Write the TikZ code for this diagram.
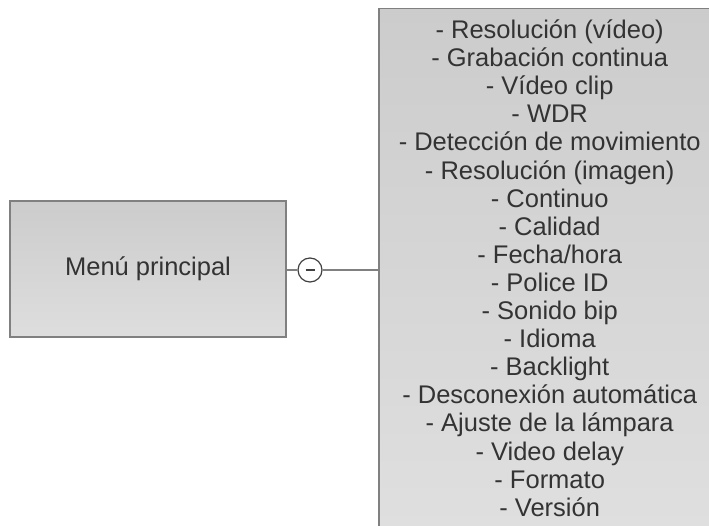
\documentclass[tikz,border=0pt]{standalone}
\usepackage{fontspec}
\setmainfont{Liberation Sans}
\usetikzlibrary{positioning}

\tikzset{
    menubox/.style={draw=black!50, line width=1.5pt, top color=black!20, bottom color=black!13,
        text=black!80, font=\fontsize{25.5}{28.1}\selectfont},
    conector/.style={draw=black!50, line width=1.5pt},
    pliegue/.style={circle, draw=black!75, line width=1.2pt, fill=white, minimum size=24pt, inner sep=0pt}
}

\begin{document}
\begin{tikzpicture}[x=1pt,y=-1pt]
\useasboundingbox (0,0) rectangle (709,526);

%draw main box
    \node (menu) [menubox, minimum width=276pt, minimum height=136pt] at (148,269) {Menú principal};

%draw list box
    \node (opciones) [menubox, anchor=north west, align=center, inner xsep=20pt, inner ysep=11pt, text depth=40pt, bottom color=black!12] at (378,8)
    {- Resolución (vídeo)\\ - Grabación continua\\ - Vídeo clip\\ - WDR\\ - Detección de movimiento\\
     - Resolución (imagen)\\ - Continuo\\ - Calidad\\ - Fecha/hora\\ - Police ID\\ - Sonido bip\\
     - Idioma\\ - Backlight\\ - Desconexión automática\\ - Ajuste de la lámpara\\ - Video delay\\
     - Formato\\ - Versión};

%draw collapse button and lines
    \node (boton) [pliegue] at (310,270) {};
    \draw[black!75, line width=1.2pt] ([xshift=-4.5pt]boton.center) -- ([xshift=4.5pt]boton.center);
    \draw[conector] (menu.east |- boton.west) -- (boton.west);
    \draw[conector] (boton.east) -- (boton.east -| opciones.west);

\end{tikzpicture}
\end{document}
